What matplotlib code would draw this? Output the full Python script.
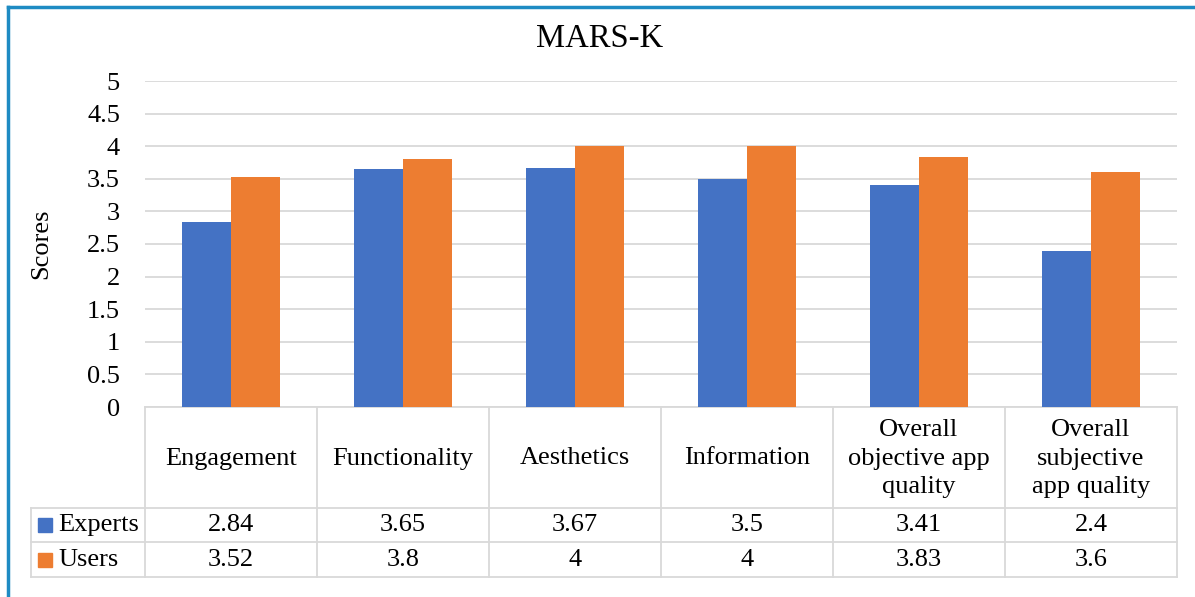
import numpy as np
import matplotlib
matplotlib.use("Agg")
import matplotlib.pyplot as plt
from matplotlib.patches import Rectangle

plt.rcParams['font.family'] = ['Liberation Serif', 'DejaVu Serif']

# data
categories = ["Engagement", "Functionality", "Aesthetics", "Information",
              "Overall\nobjective app\nquality", "Overall\nsubjective\napp quality"]
experts = [2.84, 3.65, 3.67, 3.5, 3.41, 2.4]
users = [3.52, 3.8, 4, 4, 3.83, 3.6]
series_names = ["Experts", "Users"]
colors = ["#4472C4", "#ED7D31"]
grid_col = "#D9D9D9"
fs = 19

W, H = 1195, 597
fig = plt.figure(figsize=(W / 100, H / 100), dpi=100)

# axes box in pixels (left, top, right, bottom)
L, T, R, B = 145, 81, 1177, 407
ax = fig.add_axes([L / W, (H - B) / H, (R - L) / W, (B - T) / H])

x = np.arange(len(categories)) + 0.5
w = 0.285
ax.bar(x - w / 2, experts, w, color=colors[0], zorder=3)
ax.bar(x + w / 2, users, w, color=colors[1], zorder=3)

ax.set_xlim(0, len(categories))
ax.set_ylim(0, 5)
ax.set_yticks(np.arange(0, 5.01, 0.5))
ax.set_yticklabels(["0", "0.5", "1", "1.5", "2", "2.5", "3", "3.5", "4", "4.5", "5"])
ax.tick_params(axis='y', length=0, labelsize=fs, pad=18)
ax.set_xticks([])
ax.yaxis.grid(True, color=grid_col, lw=1.3, zorder=0)
for s in ax.spines.values():
    s.set_visible(False)

ax.set_ylabel("Scores", fontsize=fs, va='center')
ax.yaxis.set_label_coords((41 - L) / (R - L), 0.5)
fig.text(600 / W, 1 - 39 / H, "MARS-K", fontsize=23.5, ha='center', va='center')

# data table below the plot
def ay(py):
    return (B - py) / (B - T)

def dx(px):
    return px / (R - L) * len(categories)

tr = ax.get_xaxis_transform()
rows = [407, 508, 542, 577]
leg_left = -dx(L - 31)
lk = dict(color=grid_col, lw=1.3, clip_on=False, transform=tr)

ax.plot([0, len(categories)], [ay(rows[0])] * 2, **lk)
for py in rows[1:]:
    ax.plot([leg_left, len(categories)], [ay(py)] * 2, **lk)
for k in range(len(categories) + 1):
    ax.plot([k, k], [ay(rows[0]), ay(rows[-1])], **lk)
ax.plot([leg_left, leg_left], [ay(rows[1]), ay(rows[-1])], **lk)

for i, c in enumerate(categories):
    ax.text(x[i], ay((rows[0] + rows[1]) / 2 + 1), c, ha='center', va='center',
            fontsize=fs, linespacing=1.38, transform=tr, clip_on=False)

for r, (name, vals) in enumerate(zip(series_names, [experts, users])):
    yc = ay((rows[r + 1] + rows[r + 2]) / 2)
    for i, v in enumerate(vals):
        ax.text(x[i], yc, f"{v:g}", ha='center', va='center', fontsize=fs,
                transform=tr, clip_on=False)
    ax.add_patch(Rectangle((leg_left + dx(7), yc - 7 / (B - T)),
                           dx(14), 14 / (B - T), color=colors[r], transform=tr,
                           clip_on=False))
    ax.text(leg_left + dx(27), yc, name, ha='left',
            va='center', fontsize=fs, transform=tr, clip_on=False)

# outer frame (top and left edges visible)
fig.add_artist(plt.Line2D([8 / W, 8 / W], [0, 1 - 7 / H], color="#1E8BC3", lw=2.5))
fig.add_artist(plt.Line2D([8 / W, 1], [1 - 7 / H, 1 - 7 / H], color="#1E8BC3", lw=2.5))

fig.savefig("out.png", dpi=100)
